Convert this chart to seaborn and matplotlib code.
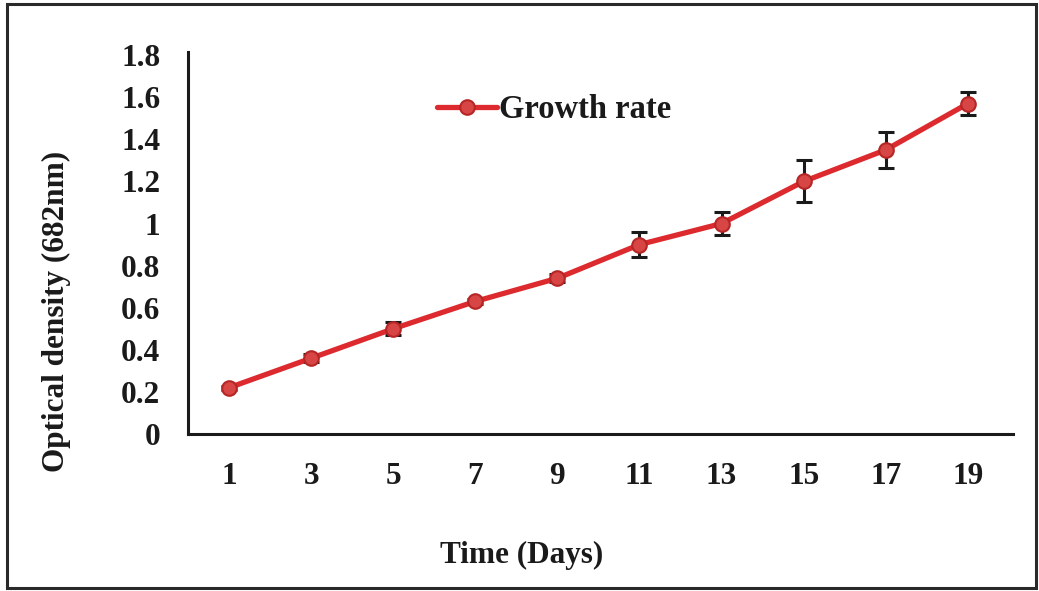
import matplotlib
matplotlib.use("Agg")
import matplotlib.pyplot as plt
import matplotlib.patches as mpatches
import seaborn as sns
import pandas as pd

# Culture growth measured every other day
days = [1, 3, 5, 7, 9, 11, 13, 15, 17, 19]
optical_density = [0.22, 0.36, 0.50, 0.63, 0.74, 0.90, 1.00, 1.20, 1.35, 1.57]
od_error = [0.01, 0.02, 0.03, 0.01, 0.02, 0.06, 0.055, 0.10, 0.085, 0.055]
y_ticks = [0, 0.2, 0.4, 0.6, 0.8, 1.0, 1.2, 1.4, 1.6, 1.8]
y_tick_labels = ["0", "0.2", "0.4", "0.6", "0.8", "1", "1.2", "1.4", "1.6", "1.8"]

df = pd.DataFrame({"day": days, "od": optical_density, "err": od_error})

sns.set_theme(style="white")
plt.rcParams["font.family"] = ["Liberation Serif", "DejaVu Serif"]
plt.rcParams["font.weight"] = "bold"

FS = 22.5
line_color = "#dc2a2e"

fig = plt.figure(figsize=(10.39, 5.91), dpi=100)
ax = fig.add_axes([188 / 1039, 1 - 434 / 591, 825 / 1039, 382 / 591])

ax.errorbar(df["day"], df["od"], yerr=df["err"], fmt="none", ecolor="#1a1a1a",
            elinewidth=2.2, capsize=6, capthick=2.2, zorder=2)
sns.lineplot(data=df, x="day", y="od", ax=ax, color=line_color, linewidth=3.8,
             marker="o", markersize=10.5, markerfacecolor="#d84545",
             markeredgecolor="#b52626", markeredgewidth=1.5,
             label="Growth rate", zorder=3)

ax.set_xlim(0, 20.1)
ax.set_ylim(0, 1.815)
ax.set_xticks(days)
ax.set_xticklabels([str(d) for d in days])
ax.set_yticks(y_ticks)
ax.set_yticklabels(y_tick_labels)
ax.tick_params(axis="both", length=0, labelsize=FS, colors="#1a1a1a")
ax.tick_params(axis="y", pad=20)
ax.tick_params(axis="x", pad=20)
for lbl in ax.get_xticklabels() + ax.get_yticklabels():
    lbl.set_fontweight("bold")

for side in ("top", "right"):
    ax.spines[side].set_visible(False)
for side in ("left", "bottom"):
    ax.spines[side].set_color("#1a1a1a")
    ax.spines[side].set_linewidth(2.2)

ax.set_xlabel("Time (Days)", fontsize=FS, fontweight="bold", color="#1a1a1a",
              va="center", ha="center")
ax.xaxis.set_label_coords(0.405, -0.317)
ax.set_ylabel("Optical density (682nm)", fontsize=FS, fontweight="bold",
              color="#1a1a1a", va="center", ha="center")
ax.yaxis.set_label_coords(-0.159, 0.322)

leg = ax.legend(loc="center left", bbox_to_anchor=(437 / 1039, 1 - 110 / 591),
                bbox_transform=fig.transFigure, frameon=False,
                handlelength=1.85, handletextpad=0.05, borderpad=0, borderaxespad=0,
                prop={"weight": "bold", "size": 23.5})
for t in leg.get_texts():
    t.set_color("#1a1a1a")

# Frame around the whole figure
frame = mpatches.Rectangle((7 / 1039, 1 - 588 / 591), 1029 / 1039, 584 / 591,
                           transform=fig.transFigure, fill=False,
                           edgecolor="#2a2a2a", linewidth=2.2)
fig.patches.append(frame)

fig.savefig("out.png", dpi=100)
